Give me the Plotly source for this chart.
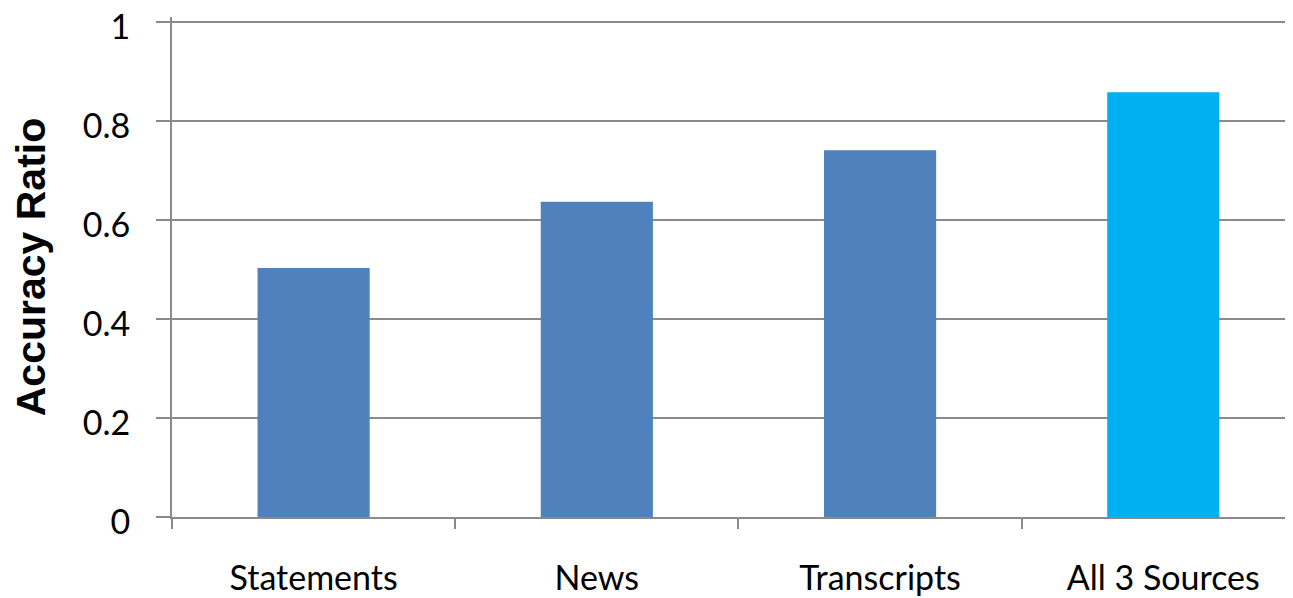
import plotly.graph_objects as go

categories = ["Statements", "News", "Transcripts", "All 3 Sources"]
values = [0.503, 0.637, 0.741, 0.858]
bar_colors = ["#4F81BD", "#4F81BD", "#4F81BD", "#00B0F0"]
y_ticks = [0, 0.2, 0.4, 0.6, 0.8, 1]
y_ticktext = ["0", "0.2", "0.4", "0.6", "0.8", "1"]

grid = "#8a8a8a"

fig = go.Figure(go.Bar(
    x=categories, y=values, marker=dict(color=bar_colors, line=dict(width=0)),
    width=0.396,
))

fig.update_layout(
    width=1285, height=590,
    margin=dict(l=164, r=0, t=9, b=81),
    paper_bgcolor="white", plot_bgcolor="white",
    showlegend=False,
    font=dict(family="Lato", color="black"),
)
fig.update_xaxes(
    type="category", range=[-0.5, 3.458], tickson="boundaries",
    ticks="outside", ticklen=10, tickwidth=2, tickcolor=grid,
    showgrid=False, showline=True, linecolor=grid, linewidth=2,
    tickfont=dict(family="Lato", size=34, color="black"),
    ticklabelstandoff=30, automargin=False,
)
fig.update_yaxes(
    range=[0, 1.01], tickvals=y_ticks, ticktext=y_ticktext,
    ticks="outside", ticklen=14, tickwidth=2, tickcolor=grid,
    showgrid=True, gridcolor=grid, gridwidth=2,
    showline=True, linecolor=grid, linewidth=2,
    zeroline=False, ticklabeloverflow="allow", automargin=False,
    tickfont=dict(family="Lato", size=34, color="black"),
    ticklabelstandoff=19, ticklabelshift=5,
    title=dict(text="<b>Accuracy Ratio</b>", standoff=42,
               font=dict(family="Liberation Sans", size=41, color="black")),
)

fig.write_html("out.html")
